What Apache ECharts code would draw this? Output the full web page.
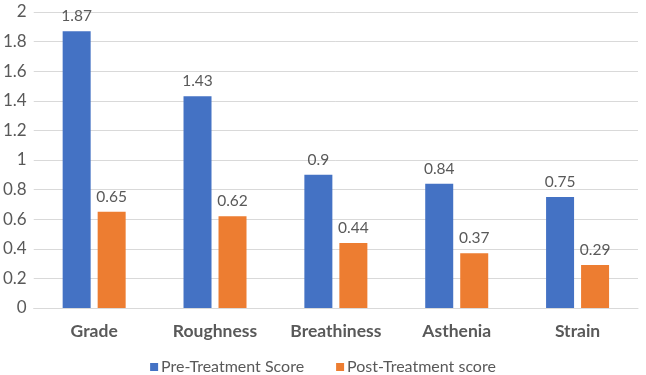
<!DOCTYPE html>
<html><head><meta charset="utf-8">
<script src="https://cdn.jsdelivr.net/npm/echarts@6/dist/echarts.min.js"></script>
<style>html,body{margin:0;padding:0;background:#fff}#c{width:646px;height:375px}</style>
</head><body><div id="c"></div>
<script>
const categories = ["Grade", "Roughness", "Breathiness", "Asthenia", "Strain"];
const preTreatment = [1.87, 1.43, 0.9, 0.84, 0.75];
const postTreatment = [0.65, 0.62, 0.44, 0.37, 0.29];
const seriesNames = ["Pre-Treatment Score", "Post-Treatment score"];

const chart = echarts.init(document.getElementById('c'), null, {renderer: 'canvas'});
const font = 'Lato, "Open Sans", sans-serif';
const labelCfg = {show: true, position: 'top', color: '#595959', fontSize: 15.5, fontFamily: font, distance: 7};
chart.setOption({
  animation: false,
  grid: {left: 32, right: 8, top: 12, bottom: 67, containLabel: false},
  legend: {
    top: 354, left: 'center', itemWidth: 8, itemHeight: 8, itemGap: 32,
    icon: 'rect',
    textStyle: {color: '#595959', fontSize: 16, fontFamily: font, padding: [0, 0, 0, -2]}
  },
  xAxis: {
    type: 'category', data: categories,
    axisLine: {lineStyle: {color: '#d9d9d9'}},
    axisTick: {show: false},
    axisLabel: {interval: 0, color: '#595959', fontSize: 17.5, fontWeight: 'bold', fontFamily: font, margin: 14}
  },
  yAxis: {
    type: 'value', min: 0, max: 2, interval: 0.2,
    axisLine: {show: false}, axisTick: {show: false},
    splitLine: {lineStyle: {color: '#d9d9d9'}},
    axisLabel: {color: '#595959', fontSize: 17, fontFamily: font, margin: 7,
      formatter: v => String(Math.round(v * 10) / 10)}
  },
  series: [
    {name: seriesNames[0], type: 'bar', data: preTreatment, itemStyle: {color: '#4472c4'},
     barWidth: 28, barGap: '25%', label: labelCfg},
    {name: seriesNames[1], type: 'bar', data: postTreatment, itemStyle: {color: '#ed7d31'},
     barWidth: 28, barGap: '25%', label: labelCfg}
  ]
});
</script></body></html>
